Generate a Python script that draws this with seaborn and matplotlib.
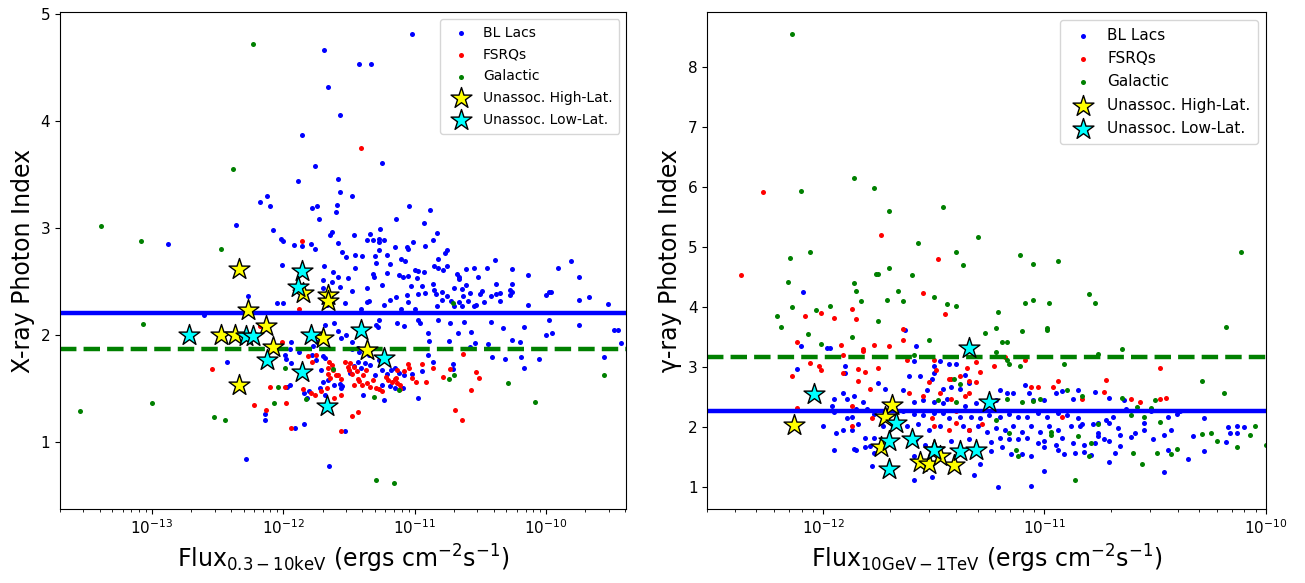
import numpy as np
import matplotlib
matplotlib.use("Agg")
import matplotlib.pyplot as plt
import seaborn as sns

# values are (log10(flux / 1e-12), photon index)

# ---- left panel: X-ray
xr_bll = np.array([
    (0.98, 4.82), (0.31, 4.67), (0.58, 4.54), (0.67, 4.54), (0.34, 4.32), (0.43, 4.06), (0.14, 3.87),
    (-0.88, 2.85), (-0.36, 3.03), (-0.43, 1.75), (-0.60, 2.19), (-0.27, 2.36),
    (0.75, 3.61), (0.24, 3.58), (0.11, 3.44), (0.42, 3.46), (0.43, 3.34), (0.52, 3.30), (-0.12, 3.30),
    (-0.18, 3.24), (-0.10, 3.21), (0.22, 3.19), (0.26, 3.21), (0.41, 3.22), (0.40, 3.15), (0.96, 3.21),
    (1.12, 3.17), (0.27, 3.08), (0.86, 3.08), (1.07, 3.05), (-0.08, 2.98), (0.37, 2.96), (0.36, 2.93),
    (0.66, 2.94), (0.74, 2.99), (1.17, 2.95), (-0.02, 2.90), (0.00, 2.88), (0.08, 2.84), (0.14, 2.83),
    (0.21, 2.85), (0.24, 2.80), (0.42, 2.86), (0.54, 2.93), (0.64, 2.89), (0.68, 2.89), (0.73, 2.90),
    (0.73, 2.87), (0.77, 2.89), (1.14, 2.89), (0.99, 2.87), (0.85, 2.82), (0.94, 2.82), (0.95, 2.80),
    (0.73, 2.79), (0.45, 2.78), (0.48, 2.73), (0.55, 2.75), (0.60, 2.74), (0.70, 2.74), (0.79, 2.75),
    (1.08, 2.83), (1.23, 2.77), (1.25, 2.79), (1.18, 2.71), (0.90, 2.71), (0.93, 2.69), (0.81, 2.66),
    (0.71, 2.67), (0.55, 2.63), (0.31, 2.64), (-0.01, 2.65), (0.38, 2.59), (0.42, 2.54), (0.49, 2.53),
    (1.00, 2.61), (1.03, 2.60), (1.07, 2.59), (1.15, 2.64), (1.18, 2.63), (1.22, 2.61), (1.25, 2.64),
    (0.68, 2.57), (0.69, 2.54), (0.75, 2.47), (0.64, 2.44), (0.91, 2.54), (0.95, 2.55), (1.02, 2.53),
    (0.79, 2.58), (0.88, 2.56), (1.06, 2.46), (1.08, 2.39), (1.03, 2.38), (0.97, 2.46), (0.94, 2.37),
    (1.14, 2.48), (1.15, 2.42), (1.16, 2.38), (1.21, 2.40), (1.25, 2.36), (0.30, 2.51), (0.30, 2.44),
    (0.43, 2.45), (0.37, 2.49), (0.52, 2.41), (0.65, 2.32), (0.64, 2.31), (0.81, 2.33), (0.86, 2.35),
    (0.77, 2.28), (0.95, 2.31), (1.21, 2.33), (1.28, 2.32), (-0.05, 2.30), (0.00, 2.30), (0.33, 2.28),
    (0.47, 2.30), (0.59, 2.24), (0.90, 2.24), (1.00, 2.24), (1.17, 2.27),
    (1.61, 2.70), (2.19, 2.69), (1.45, 2.63), (1.39, 2.62), (1.55, 2.63), (1.74, 2.62), (2.09, 2.63),
    (1.86, 2.56), (2.25, 2.54), (1.32, 2.57), (1.34, 2.54), (1.34, 2.52), (1.48, 2.54), (1.62, 2.48),
    (1.74, 2.48), (1.39, 2.47), (1.30, 2.44), (1.36, 2.43), (1.42, 2.39), (1.51, 2.41), (1.50, 2.38),
    (1.58, 2.36), (1.62, 2.38), (1.65, 2.39), (1.73, 2.42), (1.74, 2.40), (1.73, 2.37), (2.00, 2.37),
    (2.02, 2.40), (2.04, 2.40), (2.25, 2.33), (2.33, 2.35), (2.47, 2.29), (1.86, 2.28), (1.37, 2.36),
    (1.34, 2.31), (1.41, 2.32), (1.45, 2.27), (1.47, 2.28), (1.53, 2.31), (1.65, 2.32), (1.30, 2.27),
    (1.36, 2.27),
    (1.27, 2.11), (1.38, 2.12), (1.33, 2.02), (1.43, 2.03), (1.58, 2.12), (1.67, 2.06), (1.83, 2.07),
    (2.02, 2.14), (2.00, 2.00), (2.05, 2.02), (2.25, 2.09), (2.52, 2.05), (2.55, 2.05), (1.26, 1.94),
    (1.42, 1.89), (1.46, 1.92), (1.56, 1.91), (1.74, 1.95), (1.80, 1.93), (1.59, 1.79), (1.69, 1.77),
    (1.81, 1.79), (1.83, 1.69), (1.95, 1.77), (2.44, 1.79), (2.57, 1.92), (1.29, 1.73), (1.29, 1.68),
    (0.39, 2.11), (0.42, 2.04), (0.32, 2.09), (0.44, 1.97), (0.48, 2.00), (0.52, 1.93), (0.71, 2.09),
    (0.72, 2.07), (0.73, 2.14), (0.87, 2.11), (0.92, 2.08), (1.03, 2.14), (1.04, 2.11), (1.10, 2.02),
    (1.11, 1.94), (1.18, 2.14), (0.57, 1.88), (0.52, 1.87), (0.58, 1.84), (0.01, 1.81), (0.02, 1.77),
    (0.06, 1.93), (0.05, 1.87), (0.12, 1.84), (0.06, 1.74), (0.26, 1.93), (0.23, 1.90), (0.25, 1.76),
    (0.22, 1.81), (0.30, 1.80), (0.32, 1.78), (0.29, 1.67), (0.30, 1.56), (0.34, 1.58), (0.28, 1.50),
    (0.39, 1.53), (0.44, 1.50), (0.45, 1.52), (0.51, 1.64), (0.54, 1.71), (0.57, 1.75), (0.59, 1.69),
    (0.62, 1.74), (0.65, 1.81), (0.66, 1.72), (0.70, 1.62), (0.73, 1.76), (0.75, 1.67), (0.79, 1.63),
    (0.82, 1.67), (0.85, 1.69), (0.88, 1.64), (0.92, 1.62), (0.91, 1.50), (0.85, 1.50), (0.81, 1.52),
    (0.75, 1.53), (0.61, 1.44), (0.77, 1.39), (1.03, 1.41), (0.98, 1.63), (1.06, 1.66), (1.10, 1.81),
    (1.14, 1.75), (0.03, 1.51), (0.05, 1.53), (0.16, 1.46), (0.20, 1.47), (0.18, 1.41), (-0.14, 1.26),
    (-0.14, 1.20), (0.16, 1.17), (0.09, 1.13), (-0.28, 0.84), (0.35, 0.77), (0.47, 1.10), (0.43, 1.54),
    (0.32, 1.44),
])
xr_fsrq = np.array([
    (0.59, 3.75), (-0.54, 1.68), (0.14, 2.88), (0.12, 2.24),
    (1.37, 1.82), (1.27, 1.68), (1.22, 1.61), (1.47, 1.65), (1.49, 1.60), (1.43, 1.48), (1.31, 1.30),
    (1.36, 1.20),
    (-0.22, 1.34), (-0.13, 1.30), (-0.10, 1.51), (0.02, 1.36), (-0.01, 1.93), (0.06, 1.13), (0.44, 1.10),
    (0.52, 1.24), (0.57, 1.28), (0.15, 1.49), (0.19, 1.80), (0.25, 1.81), (0.22, 1.75), (0.35, 1.75),
    (0.34, 1.69), (0.37, 1.72), (0.38, 1.67), (0.34, 1.63), (0.36, 1.60), (0.40, 1.62), (0.42, 1.62),
    (0.44, 1.59), (0.47, 1.75), (0.49, 1.70), (0.51, 1.74), (0.50, 1.67), (0.52, 1.63), (0.54, 1.70),
    (0.56, 1.66), (0.57, 1.59), (0.58, 1.57), (0.54, 1.53), (0.61, 1.62), (0.60, 1.53), (0.63, 1.67),
    (0.64, 1.55), (0.66, 1.51), (0.68, 1.58), (0.71, 1.50), (0.73, 1.49), (0.75, 1.47), (0.78, 1.61),
    (0.80, 1.58), (0.83, 1.56), (0.86, 1.60), (0.87, 1.55), (0.89, 1.53), (0.92, 1.66), (0.95, 1.73),
    (0.96, 1.69), (0.87, 1.67), (0.85, 1.59), (0.89, 1.49), (0.98, 1.60), (1.01, 1.56), (1.06, 1.73),
    (1.09, 1.56), (1.14, 1.69), (0.29, 1.47), (0.33, 1.50), (0.21, 1.46), (0.24, 1.44), (0.39, 1.41),
    (0.44, 1.44), (0.01, 1.51), (-0.18, 2.08),
])
xr_gal = np.array([
    (-0.23, 4.72), (-0.38, 3.55), (-1.39, 3.02), (-1.08, 2.88), (-0.47, 2.80), (-1.07, 2.10),
    (-1.55, 1.29), (-1.00, 1.36), (-0.53, 1.23), (-0.44, 1.20), (1.29, 2.30), (1.26, 1.59), (1.30, 1.62),
    (1.71, 1.55), (1.92, 1.37), (2.44, 1.62), (0.01, 1.69), (-0.04, 1.51), (-0.07, 1.36), (0.17, 1.40),
    (0.38, 1.68), (0.69, 1.42), (0.71, 0.64), (0.84, 0.61), (0.88, 1.48),
])
xr_unas_hi = np.array([
    (-0.34, 2.62), (-0.47, 2.00), (-0.37, 2.00), (-0.34, 1.53), (-0.27, 2.23), (-0.13, 2.08),
    (-0.08, 1.89), (0.15, 2.39), (0.34, 2.37), (0.34, 2.32), (0.30, 1.97), (0.64, 1.86),
])
xr_unas_lo = np.array([
    (-0.72, 2.00), (-0.28, 1.99), (-0.23, 1.99), (-0.12, 1.76), (0.14, 1.65), (0.14, 2.60),
    (0.11, 2.45), (0.21, 2.00), (0.33, 1.33), (0.59, 2.05), (0.77, 1.78),
])
xr_bll_mean = 2.20
xr_gal_mean = 1.865
xr_ticks = [1e-13, 1e-12, 1e-11, 1e-10]

# ---- right panel: gamma-ray
gr_bll = np.array([
    (-0.09, 4.26), (-0.10, 3.36), (0.02, 3.32), (0.03, 3.33), (-0.12, 2.97), (0.10, 3.02), (0.10, 2.91),
    (0.25, 2.74), (0.28, 2.64), (0.09, 2.58), (0.05, 2.47), (0.11, 2.47), (0.14, 2.52), (0.18, 2.43),
    (0.04, 2.35), (0.05, 2.25), (0.15, 2.31), (0.20, 2.31), (0.23, 2.23), (0.11, 2.16), (0.13, 2.18),
    (0.00, 2.02), (0.06, 1.91), (0.09, 1.95), (0.13, 1.95), (0.16, 2.06), (0.19, 1.82), (0.05, 1.62),
    (0.14, 1.64), (0.15, 1.63), (0.19, 1.67), (0.21, 1.69), (0.22, 1.36), (0.23, 1.57), (0.26, 1.68),
    (0.23, 1.82), (0.27, 2.02),
    (0.37, 3.62), (0.42, 3.35), (0.41, 3.10), (0.50, 3.03), (0.53, 3.10), (0.57, 3.06), (0.60, 3.06),
    (0.50, 2.91), (0.39, 2.85), (0.44, 2.85), (0.49, 2.80), (0.58, 2.68), (0.62, 2.64), (0.66, 2.74),
    (0.64, 2.88), (0.54, 2.64), (0.36, 2.63), (0.47, 2.63), (0.41, 2.43), (0.45, 2.45), (0.50, 2.43),
    (0.54, 2.41), (0.56, 2.47), (0.64, 2.35), (0.69, 2.41), (0.80, 2.63), (0.83, 2.57), (0.86, 2.57),
    (0.78, 2.46), (0.91, 2.71), (0.93, 2.57), (0.95, 2.46), (1.00, 2.46), (1.05, 2.57), (1.08, 2.60),
    (1.15, 2.63), (1.13, 2.47), (0.36, 2.27), (0.41, 2.23), (0.45, 2.20), (0.50, 2.24), (0.54, 2.24),
    (0.57, 2.16), (0.62, 2.18), (0.67, 2.18), (0.71, 2.16), (0.75, 2.21), (0.80, 2.18), (0.84, 2.23),
    (0.88, 2.18), (0.92, 2.18), (0.97, 2.24), (1.01, 2.17), (1.06, 2.24), (1.10, 2.21), (1.15, 2.16),
    (0.38, 2.02), (0.43, 2.05), (0.48, 1.96), (0.53, 2.02), (0.63, 2.02), (0.66, 1.96), (0.70, 2.02),
    (0.74, 1.93), (0.78, 1.99), (0.82, 1.96), (0.86, 2.02), (0.90, 1.93), (0.94, 2.02), (0.98, 1.93),
    (1.02, 2.02), (1.06, 1.96), (1.12, 2.02), (1.16, 2.02), (0.42, 1.80), (0.46, 1.71), (0.58, 1.77),
    (0.66, 1.80), (0.76, 1.75), (0.80, 1.82), (0.84, 1.80), (0.88, 1.80), (0.92, 1.82), (0.97, 1.74),
    (1.00, 1.77), (1.05, 1.71), (1.08, 1.82), (1.13, 1.74), (0.76, 1.60), (0.81, 1.68), (0.85, 1.55),
    (0.90, 1.56), (0.94, 1.52), (1.00, 1.67), (1.06, 1.63), (1.09, 1.55), (1.14, 1.57), (0.41, 1.52),
    (0.62, 1.57), (0.68, 1.21), (0.49, 1.18), (0.41, 1.13), (0.79, 1.01), (0.94, 1.03), (1.00, 1.27),
    (0.71, 1.39),
    (1.23, 2.59), (1.29, 2.49), (1.36, 2.46), (1.37, 2.31), (1.48, 2.28), (1.61, 2.27), (1.60, 2.23),
    (1.56, 2.17), (1.72, 2.16), (1.17, 2.05), (1.22, 2.05), (1.24, 2.07), (1.28, 2.13), (1.31, 2.17),
    (1.29, 2.07), (1.33, 1.99), (1.34, 1.88), (1.39, 1.84), (1.41, 1.91), (1.45, 1.96), (1.45, 2.07),
    (1.49, 1.81), (1.54, 1.88), (1.57, 1.96), (1.24, 1.91), (1.24, 1.85), (1.27, 1.80), (1.29, 1.77),
    (1.23, 1.74), (1.18, 1.71), (1.18, 1.59), (1.21, 1.54), (1.32, 1.58), (1.34, 1.69), (1.29, 1.42),
    (1.56, 1.63), (1.65, 1.47), (1.67, 1.85), (1.72, 1.60), (1.83, 2.00), (1.82, 1.75), (1.84, 1.91),
    (1.87, 2.02), (1.90, 2.00), (1.87, 1.91), (1.54, 1.26),
])
gr_fsrq = np.array([
    (-0.27, 5.92), (-0.37, 4.54), (0.26, 5.21), (-0.08, 3.86), (-0.01, 3.90), (0.05, 3.82), (0.13, 3.97),
    (0.15, 3.81), (-0.12, 3.43), (0.08, 3.38), (0.18, 3.31), (0.18, 3.27), (0.23, 3.37), (0.30, 3.36),
    (-0.06, 3.07), (-0.02, 3.02), (-0.01, 2.95), (-0.14, 2.86), (0.09, 2.91), (0.16, 2.97), (0.19, 2.93),
    (0.25, 2.99), (0.09, 3.21), (0.16, 2.78), (0.21, 2.64), (0.13, 2.35), (-0.12, 2.32), (0.13, 2.02),
    (0.22, 2.16),
    (0.52, 4.80), (0.45, 4.24), (0.55, 3.89), (0.36, 3.64), (0.36, 3.46), (0.38, 3.13), (0.50, 3.13),
    (0.69, 3.09), (0.65, 2.99), (0.71, 2.92), (0.77, 3.02), (0.82, 3.18), (0.91, 3.13), (0.51, 2.95),
    (0.48, 2.75), (0.58, 2.81), (0.62, 2.85), (0.66, 2.78), (0.69, 2.75), (0.45, 2.52), (0.53, 2.57),
    (0.58, 2.47), (0.66, 2.57), (0.64, 2.52), (0.39, 2.57), (0.60, 2.28), (0.60, 2.07), (0.57, 1.96),
    (0.50, 2.02), (0.49, 2.16), (0.72, 2.06), (0.66, 1.96), (0.94, 2.68), (0.97, 2.68), (1.04, 2.67),
    (1.06, 2.77), (1.08, 2.18), (0.57, 2.80),
    (1.28, 2.79), (1.27, 2.59), (1.52, 2.99), (1.39, 2.47), (1.43, 2.42), (1.52, 2.47), (1.55, 2.49),
    (1.17, 2.47),
])
gr_gal = np.array([
    (-0.14, 8.55),
    (0.14, 6.16), (0.23, 5.99), (-0.10, 5.94), (0.30, 5.60), (-0.06, 4.93), (-0.15, 4.82), (-0.16, 4.42),
    (0.24, 4.56), (0.25, 4.56), (0.14, 4.41), (0.15, 4.28), (0.17, 4.10), (0.30, 4.65), (0.29, 4.12),
    (-0.14, 4.00), (0.03, 4.03), (-0.03, 3.95), (-0.21, 3.86), (-0.19, 3.67), (0.25, 3.78), (-0.07, 3.56),
    (0.13, 3.51), (-0.01, 3.39), (0.34, 4.28),
    (0.54, 5.68), (0.43, 5.08), (0.70, 5.18), (0.60, 4.92), (0.63, 4.71), (0.40, 4.54), (0.89, 4.88),
    (0.95, 4.72), (1.06, 4.77), (0.36, 4.10), (0.50, 4.17), (0.56, 4.06), (0.60, 4.02), (0.79, 3.92),
    (0.91, 4.07), (0.95, 4.13), (1.02, 4.07), (0.73, 3.57), (0.78, 3.66), (0.90, 3.60), (1.01, 3.63),
    (1.01, 3.65), (0.48, 3.46), (0.81, 3.43), (0.83, 3.43), (0.41, 3.21), (0.78, 3.25), (0.83, 3.13),
    (0.84, 3.05), (1.09, 3.06), (0.89, 3.02), (0.59, 2.80), (0.62, 2.73), (0.52, 2.46), (0.60, 2.43),
    (0.83, 2.47), (0.90, 2.43), (0.95, 2.44), (0.98, 2.47), (1.10, 2.63), (0.78, 2.13), (0.84, 1.91),
    (0.87, 1.63), (0.88, 1.52), (1.03, 1.88), (1.03, 1.93), (1.14, 1.13), (1.15, 1.86),
    (1.20, 4.22), (1.23, 4.08), (1.89, 4.92), (1.82, 3.67), (1.35, 3.31), (1.24, 3.22), (1.71, 2.77),
    (1.81, 2.58), (1.17, 2.52), (1.35, 2.49), (1.39, 2.21), (1.42, 2.34), (1.45, 2.17), (1.48, 2.32),
    (1.52, 2.09), (1.50, 2.46), (1.24, 2.06), (1.21, 1.74), (1.20, 1.52), (1.40, 1.58), (1.44, 1.39),
    (1.51, 1.58), (1.57, 1.55), (1.60, 1.64), (1.71, 1.89), (1.75, 1.90), (1.78, 1.77), (1.87, 1.68),
    (1.93, 1.88), (1.95, 2.03), (2.00, 1.71),
])
gr_unas_hi = np.array([
    (-0.13, 2.04), (0.31, 2.37), (0.28, 2.17), (0.26, 1.68), (0.44, 1.42), (0.48, 1.39), (0.59, 1.38),
    (0.50, 1.63), (0.53, 1.52),
])
gr_unas_lo = np.array([
    (-0.04, 2.56), (0.30, 1.78), (0.30, 1.30), (0.33, 2.08), (0.66, 3.32), (0.75, 2.42), (0.40, 1.81),
    (0.50, 1.62), (0.62, 1.61), (0.69, 1.63),
])
gr_gal_mean = 3.17
gr_bll_mean = 2.27
gr_ticks = [1e-12, 1e-11, 1e-10]


def flux(pts):
    return 1e-12 * 10 ** pts[:, 0]


def draw_panel(ax, bll, fsrq, gal, hi, lo, bll_mean, gal_mean, legend_size):
    for pts, col, lab in [(bll, "blue", "BL Lacs"), (fsrq, "red", "FSRQs"), (gal, "green", "Galactic")]:
        sns.scatterplot(x=flux(pts), y=pts[:, 1], color=col, s=13, linewidth=0,
                        label=lab, ax=ax, zorder=1)
    ax.axhline(bll_mean, color="blue", lw=3.2, zorder=2)
    ax.axhline(gal_mean, color="green", lw=3.2, ls="--", zorder=2)
    sns.scatterplot(x=flux(hi), y=hi[:, 1], color="yellow", marker="*", s=250,
                    edgecolor="black", linewidth=1, label="Unassoc. High-Lat.", ax=ax, zorder=3)
    sns.scatterplot(x=flux(lo), y=lo[:, 1], color="cyan", marker="*", s=250,
                    edgecolor="black", linewidth=1, label="Unassoc. Low-Lat.", ax=ax, zorder=3)
    ax.set_xscale("log")
    ax.tick_params(labelsize=11)
    ax.legend(loc="upper right", fontsize=legend_size, labelspacing=0.55, borderpad=0.5,
              handletextpad=0.6)


fig = plt.figure(figsize=(13.05, 5.83), dpi=100)
ax1 = fig.add_axes([0.046, 0.127, 0.434, 0.852])
ax2 = fig.add_axes([0.542, 0.127, 0.428, 0.852])

draw_panel(ax1, xr_bll, xr_fsrq, xr_gal, xr_unas_hi, xr_unas_lo, xr_bll_mean, xr_gal_mean, 10)
ax1.set_xticks(xr_ticks)
ax1.set_xlim(2.0e-14, 4.1e-10)
ax1.set_ylim(0.37, 5.02)
ax1.set_ylabel("X-ray Photon Index", fontsize=17)
ax1.set_xlabel(r"Flux$_{0.3-10\mathrm{keV}}$ (ergs cm$^{-2}$s$^{-1}$)", fontsize=17)

draw_panel(ax2, gr_bll, gr_fsrq, gr_gal, gr_unas_hi, gr_unas_lo, gr_bll_mean, gr_gal_mean, 11)
ax2.set_xticks(gr_ticks)
ax2.set_xlim(3.0e-13, 1e-10)
ax2.set_ylim(0.64, 8.92)
ax2.set_ylabel("γ-ray Photon Index", fontsize=17)
ax2.set_xlabel(r"Flux$_{10\mathrm{GeV}-1\mathrm{TeV}}$ (ergs cm$^{-2}$s$^{-1}$)", fontsize=17)

fig.savefig("out.png", dpi=100)
